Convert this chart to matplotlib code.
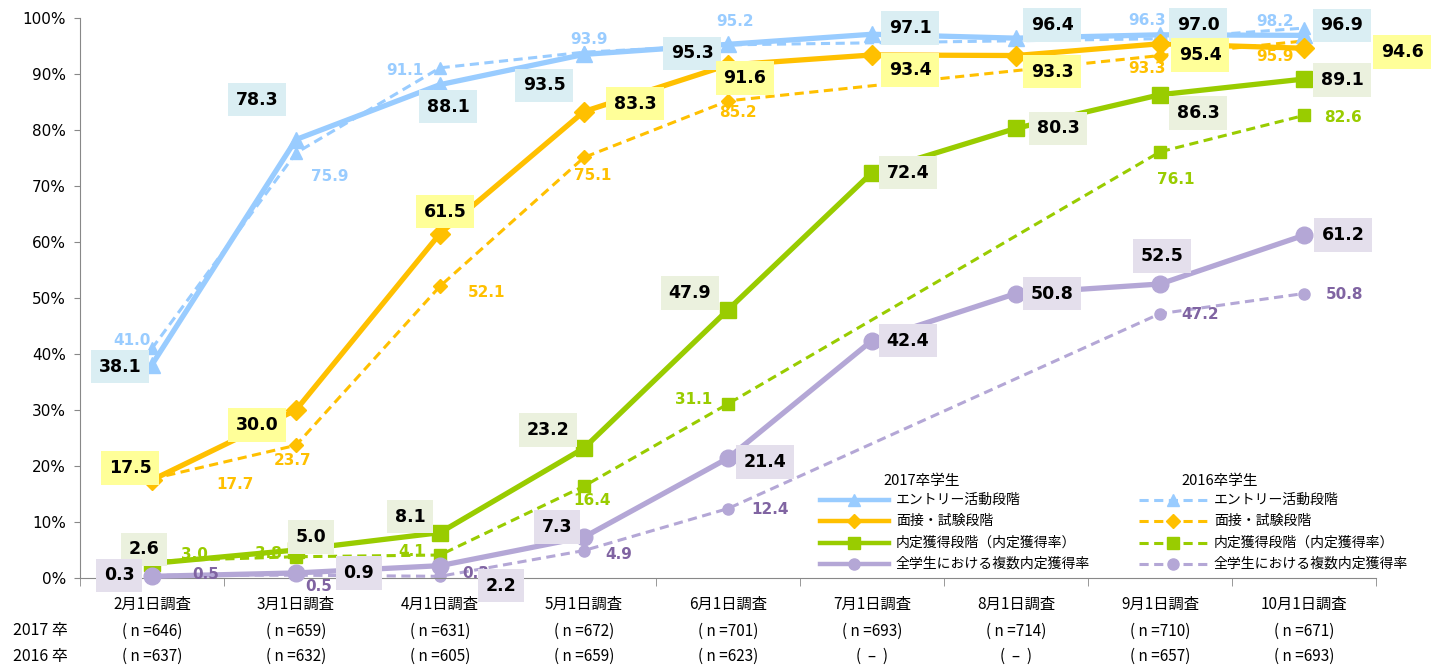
import numpy as np
import matplotlib.pyplot as plt
from matplotlib.transforms import blended_transform_factory

plt.rcParams['font.family'] = ['Noto Sans CJK JP', 'DejaVu Sans']

# %%
# survey points and sample sizes
categories = ['2月1日調査', '3月1日調査', '4月1日調査', '5月1日調査', '6月1日調査',
              '7月1日調査', '8月1日調査', '9月1日調査', '10月1日調査']
n_2017 = ['646', '659', '631', '672', '701', '693', '714', '710', '671']
n_2016 = ['637', '632', '605', '659', '623', None, None, '657', '693']

# 2017 graduates (%)
entry_17 = [38.1, 78.3, 88.1, 93.5, 95.3, 97.1, 96.4, 97.0, 96.9]
interview_17 = [17.5, 30.0, 61.5, 83.3, 91.6, 93.4, 93.3, 95.4, 94.6]
offer_17 = [2.6, 5.0, 8.1, 23.2, 47.9, 72.4, 80.3, 86.3, 89.1]
multi_17 = [0.3, 0.9, 2.2, 7.3, 21.4, 42.4, 50.8, 52.5, 61.2]

# 2016 graduates (%), no survey in July / August
entry_16 = [41.0, 75.9, 91.1, 93.9, 95.2, np.nan, np.nan, 96.3, 98.2]
interview_16 = [17.7, 23.7, 52.1, 75.1, 85.2, np.nan, np.nan, 93.3, 95.9]
offer_16 = [3.0, 3.8, 4.1, 16.4, 31.1, np.nan, np.nan, 76.1, 82.6]
multi_16 = [0.5, 0.5, 0.3, 4.9, 12.4, np.nan, np.nan, 47.2, 50.8]

labels = ['エントリー活動段階', '面接・試験段階', '内定獲得段階（内定獲得率）', '全学生における複数内定獲得率']

# %%
# styling: line colour, marker, box colour, 2016 label colour
blue, orange, green, purple = '#99CCFF', '#FFC000', '#99CC00', '#B4A7D6'
styles = [
    dict(color=blue, marker='^', box='#DAEEF3', txt=blue),
    dict(color=orange, marker='D', box='#FFFF99', txt=orange),
    dict(color=green, marker='s', box='#EBF1DE', txt=green),
    dict(color=purple, marker='o', box='#E4DFEC', txt='#8064A2'),
]
solid_ms = [11, 10, 11, 12]
dash_ms = [8, 7, 8, 8]

# label offsets in pixels (dx, dy)
off_17 = [
    [(-32, -2), (-39, 40), (8, -22), (-40, -31), (-36, -9), (38, 6), (36, 13), (38, 10), (38, 10)],
    [(-22, 12), (-39, -15), (5, 22), (51, 8), (17, -13), (38, -15), (36, -16), (40, -11), (98, -4)],
    [(-8, 14), (15, 13), (-30, 16), (-36, 18), (-38, 17), (36, 0), (42, 0), (38, -18), (38, -1)],
    [(-33, 1), (63, 0), (61, -20), (-27, 10), (37, -4), (36, 0), (36, 0), (2, 28), (39, 0)],
]
off_16 = [
    [(-20, 8), (34, -24), (-35, -3), (5, 13), (7, 23), None, None, (-13, 18), (-29, 7)],
    [(83, -6), (-3, -15), (47, -6), (9, -18), (10, -12), None, None, (-13, -13), (-29, -16)],
    [(42, 7), (-28, 3), (-28, 4), (8, -14), (-34, 4), None, None, (16, -28), (39, -2)],
    [(54, 1), (23, -11), (36, 3), (35, -4), (42, -1), None, None, (40, -1), (41, -1)],
]

series_17 = [entry_17, interview_17, offer_17, multi_17]
series_16 = [entry_16, interview_16, offer_16, multi_16]

# %%
fig = plt.figure(figsize=(14.4, 6.68), dpi=100)
ax = fig.add_axes([80 / 1440, 90 / 668, 1296 / 1440, 560 / 668])
x = np.arange(len(categories))

for k in range(4):
    st = styles[k]
    y16 = np.array(series_16[k], dtype=float)
    ok = ~np.isnan(y16)
    ax.plot(x[ok], y16[ok], color=st['color'], lw=2.2, ls=(0, (3, 1.8)),
            marker=st['marker'], ms=dash_ms[k], zorder=2, clip_on=False)
    ax.plot(x, series_17[k], color=st['color'], lw=3.8, marker=st['marker'],
            ms=solid_ms[k], zorder=3, clip_on=False)

for k in range(4):
    st = styles[k]
    for i, v in enumerate(series_16[k]):
        if np.isnan(v):
            continue
        ax.annotate(f'{v:.1f}', (i, v), xytext=off_16[k][i], textcoords='offset pixels',
                    ha='center', va='center', fontsize=11, fontweight='bold',
                    color=st['txt'], family='DejaVu Sans', zorder=5, annotation_clip=False)
    for i, v in enumerate(series_17[k]):
        ax.annotate(f'{v:.1f}', (i, v), xytext=off_17[k][i], textcoords='offset pixels',
                    ha='center', va='center', fontsize=12.5, fontweight='bold',
                    color='black', family='DejaVu Sans', zorder=6, annotation_clip=False,
                    bbox=dict(boxstyle='square,pad=0.45', fc=st['box'], ec='none'))

# axes
ax.set_xlim(-0.5, len(categories) - 0.5)
ax.set_ylim(0, 100)
ax.set_yticks(range(0, 101, 10))
ax.set_yticklabels([f'{t}%' for t in range(0, 101, 10)], family='DejaVu Sans', fontsize=11)
ax.set_xticks(x)
ax.set_xticklabels(categories, fontsize=11)
ax.set_xticks(np.arange(-0.5, len(categories)), minor=True)
ax.tick_params(axis='x', which='major', length=0, pad=13)
ax.tick_params(axis='x', which='minor', length=6, color='#888888')
ax.tick_params(axis='y', length=4, color='#888888', pad=6)
for s in ['top', 'right']:
    ax.spines[s].set_visible(False)
for s in ['left', 'bottom']:
    ax.spines[s].set_color('#888888')

# sample sizes under each survey
trans = blended_transform_factory(ax.transData, ax.transAxes)
for i in range(len(categories)):
    ax.annotate(f'( n ={n_2017[i]})', (i, 0), xycoords=trans, xytext=(0, -53),
                textcoords='offset pixels', ha='center', va='center', fontsize=11)
    t16 = f'( n ={n_2016[i]})' if n_2016[i] else '(  –  )'
    ax.annotate(t16, (i, 0), xycoords=trans, xytext=(0, -78),
                textcoords='offset pixels', ha='center', va='center', fontsize=11)
fig.text(40 / 1440, 1 - 631 / 668, '2017 卒', ha='center', va='center', fontsize=11.5)
fig.text(40 / 1440, 1 - 656 / 668, '2016 卒', ha='center', va='center', fontsize=11.5)

# legend drawn in figure pixel coordinates
lg = fig.add_axes([0, 0, 1, 1], facecolor='none')
lg.set_xlim(0, 1440)
lg.set_ylim(668, 0)
lg.axis('off')
lg.text(922, 481, '2017卒学生', ha='center', va='center', fontsize=10.5)
lg.text(1220, 481, '2016卒学生', ha='center', va='center', fontsize=10.5)
rows = [500, 521, 543, 564]
for k in range(4):
    st = styles[k]
    yy = rows[k]
    lg.plot([820, 889], [yy, yy], color=st['color'], lw=3.2)
    lg.plot([854], [yy], color=st['color'], marker=st['marker'], ms=dash_ms[k])
    lg.text(896, yy, labels[k], ha='left', va='center', fontsize=10)
    lg.plot([1139, 1208], [yy, yy], color=st['color'], lw=2.2, ls=(0, (3, 1.8)))
    lg.plot([1173], [yy], color=st['color'], marker=st['marker'], ms=dash_ms[k])
    lg.text(1214, yy, labels[k], ha='left', va='center', fontsize=10)

fig.savefig('out.png', dpi=100)
